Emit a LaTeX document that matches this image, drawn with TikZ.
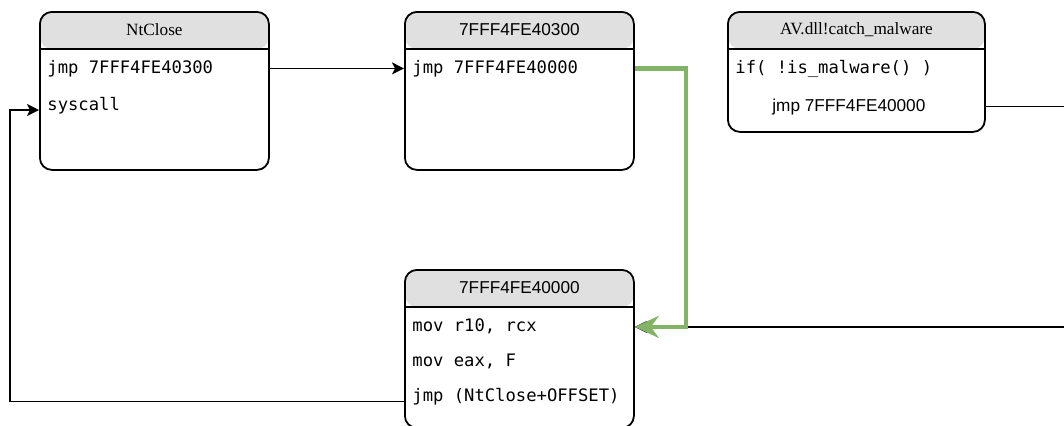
\documentclass[tikz,border=0pt]{standalone}
\usepackage{fontspec}
\setmainfont{Liberation Serif}
\setsansfont{Liberation Sans}
\setmonofont{DejaVu Sans Mono}
\usetikzlibrary{arrows.meta}
\definecolor{headgray}{HTML}{E0E0E0}
\definecolor{hookgreen}{HTML}{82B366}
\tikzstyle{box} = [draw=black, line width=0.9pt, rounded corners=6pt, anchor=north west, minimum width=114.5pt, minimum height=79pt, inner sep=0pt,
  path picture={\fill[headgray] (path picture bounding box.north west) rectangle ([yshift=-18.5pt]path picture bounding box.north east);
    \draw[line width=0.9pt] ([yshift=-18.5pt]path picture bounding box.north west) -- ([yshift=-18.5pt]path picture bounding box.north east);}]
\tikzstyle{title} = [inner sep=0pt, font={\fontsize{8.6}{10}\selectfont}]
\tikzstyle{code} = [anchor=base west, inner sep=0pt, font={\fontsize{8.6}{10}\selectfont\ttfamily}]
\tikzstyle{flow} = [draw=black, line width=0.9pt, -{Stealth[length=6pt,width=6pt,inset=1.5pt]}]
\tikzstyle{hook} = [draw=hookgreen, line width=2.2pt, -{Stealth[length=12pt,width=11pt,inset=4pt]}]

\begin{document}
\begin{tikzpicture}[x=0.5pt,y=-0.5pt]
  \useasboundingbox (0,0) rectangle (1064,425);
  % original function
  \node[box](ntclose) at (39,11){};
  \node[title](ntclose-t) at ([yshift=-9.25pt]ntclose.north){NtClose};
  \node[code](nt1) at (47,73){jmp 7FFF4FE40300};
  \node[code](nt2) at (47,110){syscall};
  % trampoline
  \node[box](tramp) at (404,11){};
  \node[title,font={\fontsize{8.6}{10}\selectfont\sffamily}](tramp-t) at ([yshift=-9.25pt]tramp.north){7FFF4FE40300};
  \node[code](tr1) at (412,73){jmp 7FFF4FE40000};
  % hook
  \node[box,minimum width=128.5pt,minimum height=60pt](av) at (727,11){};
  \node[title](av-t) at ([yshift=-9.25pt]av.north){AV.dll!catch\_malware};
  \node[code](av1) at (735,73){if( !is\_malware() )};
  \node[code,font={\fontsize{8.6}{10}\selectfont\sffamily}](av2) at (772,111){jmp 7FFF4FE40000};
  % stub
  \node[box](stub) at (404,269){};
  \node[title,font={\fontsize{8.6}{10}\selectfont\sffamily}](stub-t) at ([yshift=-9.25pt]stub.north){7FFF4FE40000};
  \node[code](st1) at (412,331.5){mov r10, rcx};
  \node[code](st2) at (412,366.5){mov eax, F};
  \node[code](st3) at (412,401.5){jmp (NtClose+OFFSET)};
  \draw[flow](nt1.mid -| ntclose.east)--(nt1.mid -| tramp.west);
  \draw[flow](av2.mid -| av.east)--++(120,0)|-(st1.mid -| stub.east);
  \draw[hook](tr1.mid -| tramp.east)--++(51,0)|-(st1.mid -| stub.east);
  \draw[flow](st3.base -| stub.west)--++(-394,0)|-(nt2.base -| ntclose.west);
\end{tikzpicture}
\end{document}
